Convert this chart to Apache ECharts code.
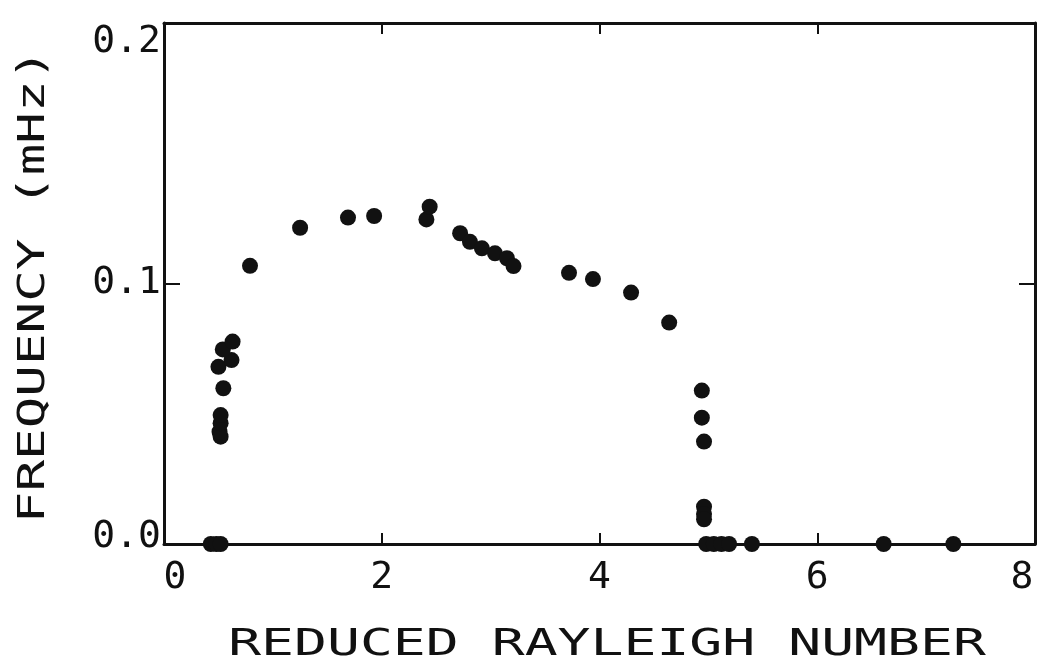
<!DOCTYPE html>
<html>
<head>
<meta charset="utf-8">
<script src="https://cdn.jsdelivr.net/npm/echarts@6/dist/echarts.min.js"></script>
<style>
  html, body { margin: 0; padding: 0; background: #fff; }
  #chart { width: 1038px; height: 664px; }
</style>
</head>
<body>
<div id="chart"></div>
<script>
// reduced Rayleigh number (x) and oscillation frequency in mHz (y)
const rayleigh = [
  0.43, 0.48, 0.52,
  0.52, 0.51, 0.52, 0.52, 0.545, 0.50, 0.62, 0.54, 0.63,
  0.79, 1.25, 1.69, 1.93, 2.41, 2.44, 2.72, 2.81, 2.92, 3.04, 3.15, 3.21,
  3.72, 3.94, 4.29, 4.64,
  4.94, 4.94, 4.96, 4.96, 4.96, 4.96,
  4.98, 5.05, 5.12, 5.19, 5.40, 6.61, 7.25
];
const frequency = [
  0, 0, 0,
  0.0412, 0.0431, 0.0464, 0.0495, 0.0598, 0.068, 0.0706, 0.0747, 0.0777,
  0.1068, 0.1214, 0.1253, 0.1259, 0.1246, 0.1295, 0.1193, 0.1160, 0.1135, 0.1116, 0.1097, 0.1067,
  0.1041, 0.1017, 0.0965, 0.0850,
  0.0589, 0.0485, 0.0393, 0.0143, 0.0115, 0.0095,
  0, 0, 0, 0, 0, 0, 0
];
const xTicks = [0, 2, 4, 6, 8];
const yTicks = ["0.0", "0.1", "0.2"];
const xTitle = "REDUCED RAYLEIGH NUMBER";
const yTitle = "FREQUENCY (mHz)";

const points = rayleigh.map((x, i) => [x, frequency[i]]);
const ink = "#111";
const mono = "'DejaVu Sans Mono', 'Liberation Mono', monospace";

const chart = echarts.init(document.getElementById("chart"));

const lineStyle = { color: ink, width: 3 };

const option = {
  backgroundColor: "#fff",
  animation: false,
  grid: { left: 164, right: 3, top: 23, bottom: 120 },
  xAxis: [
    {
      type: "value",
      position: "bottom",
      min: 0, max: 8, interval: 2,
      axisLine: { show: true, onZero: false, lineStyle: lineStyle },
      axisTick: { show: true, inside: true, length: 11, lineStyle: { color: ink, width: 2 } },
      splitLine: { show: false },
      axisLabel: {
        margin: 15,
        color: ink,
        fontFamily: mono,
        fontSize: 38,
        formatter: function (v) {
          if (v === 0) return "{first|0}";
          if (v === 8) return "{last|8}";
          return String(xTicks[xTicks.indexOf(v)]);
        },
        rich: {
          first: { fontFamily: mono, fontSize: 38, color: ink, padding: [0, 0, 0, 22] },
          last: { fontFamily: mono, fontSize: 38, color: ink, padding: [0, 26, 0, 0] }
        }
      }
    },
    {
      type: "value",
      position: "top",
      min: 0, max: 8, interval: 2,
      axisLine: { show: true, onZero: false, lineStyle: lineStyle },
      axisTick: { show: true, inside: true, length: 11, lineStyle: { color: ink, width: 2 } },
      axisLabel: { show: false },
      splitLine: { show: false }
    }
  ],
  yAxis: [
    {
      type: "value",
      position: "left",
      min: 0, max: 0.2, interval: 0.1,
      axisLine: { show: true, onZero: false, lineStyle: lineStyle },
      axisTick: { show: true, inside: true, length: 16, lineStyle: { color: ink, width: 2 } },
      splitLine: { show: false },
      axisLabel: {
        margin: 3,
        color: ink,
        fontFamily: mono,
        fontSize: 38,
        formatter: function (v) {
          const i = Math.round(v * 10);
          if (i === 2) return "{top|" + yTicks[i] + "}";
          if (i === 0) return "{bottom|" + yTicks[i] + "}";
          return yTicks[i];
        },
        rich: {
          top: { fontFamily: mono, fontSize: 38, color: ink, padding: [38, 0, 0, 0] },
          bottom: { fontFamily: mono, fontSize: 38, color: ink, padding: [0, 0, 14, 0] }
        }
      }
    },
    {
      type: "value",
      position: "right",
      min: 0, max: 0.2, interval: 0.1,
      axisLine: { show: true, onZero: false, lineStyle: lineStyle },
      axisTick: { show: true, inside: true, length: 16, lineStyle: { color: ink, width: 2 } },
      axisLabel: { show: false },
      splitLine: { show: false }
    }
  ],
  graphic: [
    {
      type: "text",
      x: 607, y: 645,
      scaleX: 1.44,
      style: {
        text: xTitle,
        font: "38px " + mono,
        fill: ink,
        textAlign: "center",
        textVerticalAlign: "middle"
      }
    },
    {
      type: "text",
      x: 34, y: 286,
      rotation: Math.PI / 2,
      scaleX: 1.42,
      style: {
        text: yTitle,
        font: "37px " + mono,
        fill: ink,
        textAlign: "center",
        textVerticalAlign: "middle"
      }
    }
  ],
  series: [
    {
      type: "scatter",
      xAxisIndex: 0,
      yAxisIndex: 0,
      symbol: "circle",
      symbolSize: 16,
      clip: false,
      itemStyle: { color: ink, opacity: 1 },
      data: points
    }
  ]
};

chart.setOption(option);
</script>
</body>
</html>
